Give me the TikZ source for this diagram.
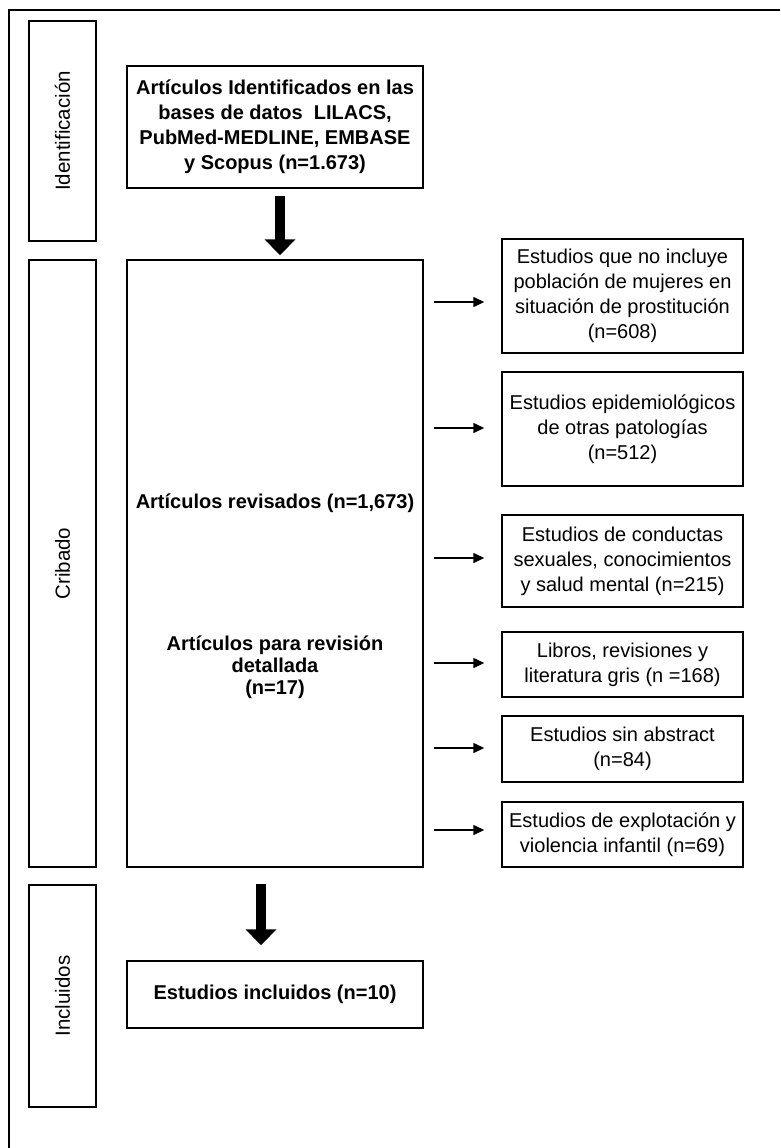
\documentclass[tikz,border=0pt]{standalone}
\usepackage{fontspec}
\setmainfont{Liberation Sans}
\usepackage{tikz}
\usetikzlibrary{arrows.meta,positioning}
\tikzset{
  phase/.style={rectangle, draw, line width=1.4pt, rotate=90, inner sep=0pt,
                minimum height=67pt, font=\fontsize{20.5}{25}\selectfont},
  blk/.style={rectangle, draw, line width=1.4pt, align=center, inner sep=0pt,
              minimum width=296pt, font=\bfseries\fontsize{20}{25}\selectfont},
  excl/.style={rectangle, draw, line width=1.4pt, align=center, inner sep=0pt,
               minimum width=241pt, font=\fontsize{20}{25}\selectfont},
  btxt/.style={align=center, inner sep=0pt, font=\bfseries\fontsize{20}{22}\selectfont},
  bigarr/.style={-{Triangle[length=16pt,width=30pt]}, line width=10pt},
  fl/.style={-{Triangle[length=11pt,width=10pt]}, line width=1.4pt,
             shorten <=10pt, shorten >=17pt},
}

\begin{document}
\begin{tikzpicture}[x=1pt,y=-1pt]
\useasboundingbox (0,0) rectangle (780,1148);
% outer frame, cut at the right and at the bottom
\draw[line width=1.8pt] (9,1148) |- (780,10);

% phases
\node[phase, minimum width=220pt] (idf) at (62.5,131) {Identificación};
\node[phase, minimum width=607pt] (crb) at (62.5,563.5) {Cribado};
\node[phase, minimum width=222pt] (inc) at (62.5,996) {Incluidos};

% main column
\node[blk, minimum height=122pt] (src) at (275,127)
  {Artículos Identificados en las\\bases de datos\ \ LILACS,\\PubMed-MEDLINE, EMBASE\\y Scopus (n=1.673)};
\node[blk, minimum height=607pt] (rev) at (275,563.5) {};
\node[btxt] (revt) at (275,503) {Artículos revisados (n=1,673)};
\node[btxt] (det) at (275,667) {Artículos para revisión\\detallada\\(n=17)};
\node[blk, minimum height=67pt] (fin) at (275,994.5) {Estudios incluidos (n=10)};

% excluded
\node[excl, minimum height=114pt] (e1) at (622.5,296)
  {Estudios que no incluye\\población de mujeres en\\situación de prostitución\\(n=608)};
\node[excl, minimum height=114pt] (e2) at (622.5,429)
  {Estudios epidemiológicos\\de otras patologías\\(n=512)};
\node[excl, minimum height=92pt] (e3) at (622.5,561)
  {Estudios de conductas\\sexuales, conocimientos\\y salud mental (n=215)};
\node[excl, minimum height=65pt] (e4) at (622.5,664.5)
  {Libros, revisiones y\\literatura gris (n =168)};
\node[excl, minimum height=66pt] (e5) at (622.5,749)
  {Estudios sin abstract\\(n=84)};
\node[excl, minimum height=65pt] (e6) at (622.5,834.5)
  {Estudios de explotación y\\violencia infantil (n=69)};

\draw[bigarr] ([xshift=5pt,yshift=-7pt]src.south) -- ([xshift=5pt,yshift=4pt]rev.north);
\draw[bigarr] ([xshift=-14pt,yshift=-16pt]rev.south) -- ([xshift=-14pt,yshift=15pt]fin.north);
\foreach \e/\dy in {e1/-6,e2/1,e3/3,e4/1.5,e5/1,e6/4.5}
  \draw[fl] ([yshift=\dy pt]rev.east |- \e.west) -- ([yshift=\dy pt]\e.west);
\end{tikzpicture}
\end{document}
